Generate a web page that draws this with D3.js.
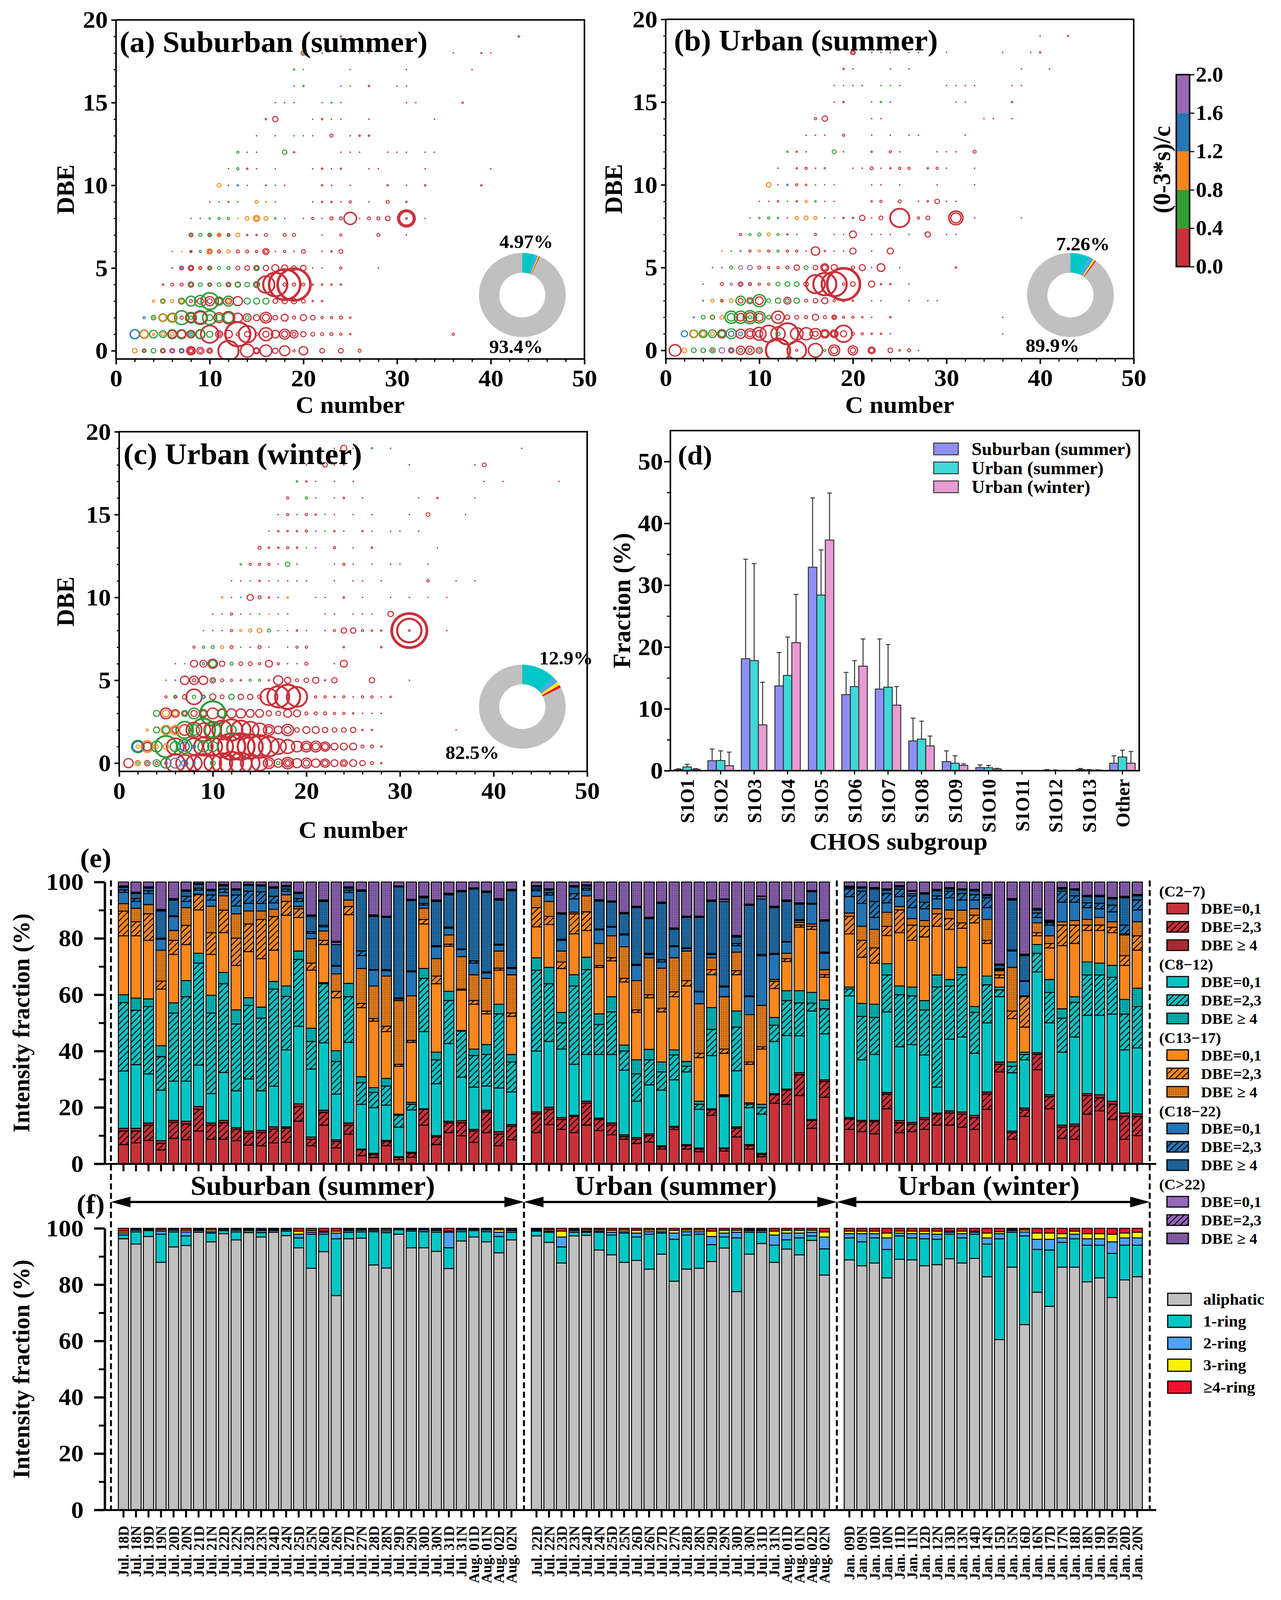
<!DOCTYPE html>
<html>
<head>
<meta charset="utf-8">
<script src="https://cdn.jsdelivr.net/npm/d3@7"></script>
<style>
  html, body { margin: 0; padding: 0; background: #fff; overflow: hidden; }
  #chart svg { display: block; width: 100vw; height: 100vh; }
  svg text { font-family: "Liberation Serif", "Times New Roman", serif; font-weight: bold; fill: #000; }
</style>
</head>
<body>
<div id="chart"></div>
<script>
// ---------- data ----------
// colour bar classes of (O-3S)/C
const ratioTicks = [0, 0.4, 0.8, 1.2, 1.6, 2.0];
const ratioColors = ['#c8313a', '#2e9e35', '#f8861c', '#2577b5', '#9868b5'];
const cTicks = [0, 10, 20, 30, 40, 50];
const dbeTicks = [0, 5, 10, 15, 20];

// bubbles: [C number, DBE, relative intensity, (O-3S)/C]
const bubblesSuburbanSummer = [
  [2,0,1.86,1.0],[3,0,1.3,0.6],[3,0,0.46,0.2],[4,0,1.86,0.6],[5,0,1.86,0.2],[5,0,0.8,0.6],[6,0,1.86,0.2],[6,0,0.8,1.8],[7,0,1.86,0.2],[7,0,1.0,1.4],
  [8,0,6.25,0.2],[8,0,3.3,0.2],[8,0,1.3,0.2],[9,0,4.2,0.2],[9,0,1.3,0.2],[10,0,2.5,0.2],[10,0,0.8,0.2],[12,0,34.9,0.2],[14,0,14.9,0.2],[15,0,1.86,0.2],
  [15,0,3.3,0.2],[16,0,11.6,0.2],[17,0,2.5,0.2],[18,0,8.7,0.2],[19,0,0.46,0.2],[20,0,6.25,0.2],[22,0,1.86,0.2],[24,0,1.86,0.2],[26,0,0.83,0.2],
  [2,1,7.4,1.4],[3,1,5.2,1.0],[3,1,6.25,0.6],[4,1,5.2,0.6],[4,1,0.46,1.0],[5,1,4.2,0.6],[5,1,1.3,1.0],[6,1,7.4,0.6],[6,1,5.2,0.2],[6,1,1.3,1.0],
  [7,1,7.4,0.6],[7,1,5.2,0.2],[8,1,5.2,0.2],[8,1,2.5,0.6],[8,1,0.5,1.4],[9,1,6.25,0.6],[9,1,7.4,0.2],[10,1,27,0.2],[10,1,3.3,0.6],[11,1,4.2,0.2],
  [11,1,1.3,0.2],[12,1,5.2,0.2],[13,1,52.9,0.2],[13,1,1,0.2],[14,1,25,0.2],[14,1,2.5,0.2],[15,1,0.8,0.2],[16,1,14.9,0.2],[16,1,3.3,0.2],[17,1,5.2,0.2],
  [18,1,8.7,0.2],[18,1,3.3,0.2],[19,1,5.2,0.2],[19,1,1.3,0.2],[20,1,2.5,0.2],[21,1,1.3,0.2],[22,1,0.83,0.2],[23,1,0.83,0.2],[24,1,0.46,0.2],[25,1,0.21,0.2],[36,1,0.46,0.2],
  [3,2,0.46,1.4],[4,2,1.86,0.6],[4,2,0.3,1.0],[5,2,4.2,1.0],[5,2,5.2,0.6],[6,2,5.2,1.0],[6,2,7.4,0.6],[7,2,16.7,0.6],[7,2,1,0.2],[8,2,7.4,0.2],
  [8,2,10.1,0.6],[8,2,1,0.6],[9,2,13.2,0.2],[9,2,16.7,0.6],[10,2,16.7,0.6],[10,2,3.3,0.6],[11,2,8.7,0.2],[11,2,4.2,0.6],[12,2,13.2,0.2],[12,2,8.7,0.6],
  [13,2,7.4,0.2],[14,2,5.2,0.2],[14,2,1.3,0.6],[15,2,3.3,0.2],[16,2,10.1,0.2],[16,2,4.2,0.2],[17,2,1.86,0.2],[18,2,4.2,0.2],[19,2,0.83,0.2],[20,2,3.3,0.2],
  [21,2,1.86,0.2],[22,2,0.46,0.2],[23,2,0.46,0.2],[24,2,0.83,0.2],[25,2,0.21,0.2],
  [4,3,0.46,1.0],[5,3,1.86,0.6],[5,3,0.8,1.0],[6,3,0.83,1.0],[7,3,3.3,0.6],[7,3,1.3,1.0],[8,3,8.7,0.6],[8,3,0.8,0.2],[9,3,11.6,0.6],[9,3,3.3,0.2],
  [10,3,25,0.6],[10,3,7.4,0.2],[10,3,2,0.2],[11,3,6.25,0.6],[11,3,3.3,0.2],[12,3,8.7,0.6],[12,3,3.3,0.2],[12,3,1,1.0],[13,3,7.4,0.2],[14,3,3.3,0.6],
  [15,3,3.3,0.6],[16,3,3.3,0.6],[17,3,1.86,0.2],[18,3,2.5,0.2],[19,3,2.5,0.2],[20,3,1.3,0.2],[21,3,0.21,0.2],[22,3,0.21,0.2],
  [5,4,0.21,0.2],[6,4,0.83,0.2],[7,4,0.83,0.2],[8,4,2.5,0.2],[8,4,1,0.6],[9,4,1.3,0.6],[10,4,1.3,0.2],[10,4,0.5,0.6],[11,4,1.3,0.6],[12,4,1.86,0.2],
  [12,4,0.8,0.6],[13,4,2.5,0.2],[13,4,1.86,0.6],[14,4,1.86,0.6],[15,4,3.3,0.6],[15,4,1.3,0.2],[16,4,25,0.2],[17,4,49.6,0.2],[18,4,82.6,0.2],[19,4,91,0.2],
  [18,4,1,0.2],[19,4,1,0.2],[20,4,0.83,0.2],[21,4,0.21,0.2],[22,4,0.21,0.2],[23,4,0.21,0.2],[24,4,0.21,0.2],
  [6,5,0.12,1.8],[7,5,1.3,0.2],[7,5,0.3,1.4],[8,5,2.5,0.2],[8,5,1,0.2],[9,5,0.83,0.2],[9,5,0.3,1.0],[10,5,1.3,0.2],[10,5,0.4,0.6],[11,5,0.83,0.6],
  [12,5,0.83,0.6],[13,5,1.3,0.2],[14,5,1.86,0.2],[15,5,2.5,0.6],[15,5,1,0.2],[16,5,2.5,0.2],[17,5,4.2,0.2],[18,5,3.3,0.2],[19,5,1.86,0.2],[20,5,2.5,0.2],
  [21,5,0.05,0.2],[22,5,0.05,0.2],[24,5,0.46,0.2],[28,5,0.05,0.2],
  [6,6,0.05,0.6],[7,6,0.05,1.0],[8,6,0.46,0.2],[8,6,0.1,1.4],[9,6,0.46,0.6],[10,6,2.5,1.0],[10,6,0.8,0.2],[11,6,0.83,0.2],[11,6,0.3,1.0],[12,6,0.83,1.0],
  [13,6,0.83,0.2],[14,6,0.83,0.2],[15,6,0.46,0.2],[16,6,3.3,0.2],[16,6,1,0.2],[17,6,0.05,0.2],[18,6,0.46,0.2],[19,6,0.05,0.2],[20,6,1.3,0.2],[22,6,0.05,0.2],
  [23,6,0.21,0.2],[24,6,1.3,0.2],
  [8,7,1.3,0.2],[8,7,0.3,0.6],[9,7,0.83,0.6],[10,7,1.3,0.6],[10,7,0.3,0.2],[11,7,1.3,1.0],[11,7,0.3,0.2],[12,7,0.83,0.6],[12,7,0.3,0.2],[13,7,1.3,1.0],
  [14,7,0.21,0.2],[15,7,0.21,0.2],[16,7,0.83,0.2],[18,7,0.83,0.2],[19,7,0.83,0.2],[22,7,0.05,0.2],[24,7,0.46,0.2],[28,7,0.83,0.2],[31,7,0.05,0.2],
  [8,8,0.05,0.6],[9,8,0.05,0.2],[10,8,0.21,0.6],[11,8,0.46,0.6],[12,8,0.46,0.6],[13,8,0.05,1.0],[14,8,1.3,1.0],[15,8,3.3,1.0],[15,8,1.3,1.0],[16,8,1.3,1.0],
  [17,8,0.21,0.6],[18,8,0.05,0.2],[20,8,0.05,0.2],[21,8,0.46,0.2],[22,8,0.05,0.2],[23,8,0.83,0.2],[24,8,0.83,0.2],[25,8,13.2,0.2],[26,8,0.05,0.2],[27,8,0.83,0.2],
  [28,8,0.83,0.2],[29,8,1.86,0.2],[31,8,25,0.2],[31,8,16.7,0.2],[31,8,0.3,0.2],[33,8,0.05,0.2],
  [10,9,0.05,0.2],[11,9,0.05,0.6],[12,9,0.12,0.2],[13,9,0.05,0.6],[15,9,0.83,1.0],[16,9,0.12,1.0],[17,9,0.05,0.6],[21,9,0.05,0.2],[22,9,0.21,0.2],[23,9,0.21,0.2],
  [24,9,0.05,0.2],[25,9,0.46,0.2],[27,9,0.05,0.2],[29,9,0.83,0.2],[31,9,0.21,0.2],
  [11,10,1.3,1.0],[12,10,0.05,0.2],[13,10,0.21,1.4],[14,10,0.05,0.6],[16,10,0.12,0.2],[17,10,0.05,0.6],[18,10,0.05,0.2],[22,10,0.21,0.2],[23,10,0.05,0.2],
  [25,10,0.05,0.2],[29,10,0.21,0.2],[31,10,0.05,0.2],[33,10,0.21,0.2],[39,10,0.21,0.2],
  [12,11,0.05,0.6],[13,11,0.46,0.6],[14,11,0.21,0.2],[15,11,0.05,0.2],[17,11,0.05,0.6],[21,11,0.05,0.2],[22,11,0.21,0.2],[23,11,0.05,0.2],[24,11,0.21,0.2],
  [27,11,0.05,0.2],[28,11,0.05,0.2],[33,11,0.05,0.2],[40,11,0.05,0.2],
  [13,12,0.46,0.6],[14,12,0.05,0.2],[15,12,0.05,0.2],[18,12,1.86,0.6],[19,12,0.21,0.2],[24,12,0.05,0.2],[25,12,0.05,0.2],[26,12,0.05,0.2],[29,12,0.05,0.2],
  [30,12,0.05,0.2],[31,12,0.05,0.2],[33,12,0.05,0.2],[34,12,0.05,0.2],
  [15,13,0.05,0.2],[17,13,0.05,0.2],[19,13,0.05,0.6],[20,13,0.05,0.6],[21,13,0.05,0.2],[23,13,0.83,0.2],[25,13,0.05,0.2],[26,13,0.21,0.2],[27,13,0.21,0.2],
  [16,14,0.21,0.2],[17,14,2.5,0.2],[21,14,0.05,0.6],[22,14,0.21,0.2],[23,14,0.05,0.6],[24,14,0.05,0.2],[27,14,0.05,0.2],[34,14,0.05,0.2],
  [17,15,0.05,0.2],[18,15,0.05,0.2],[19,15,0.05,0.2],[22,15,0.05,0.2],[23,15,0.12,0.6],[24,15,0.05,0.2],[31,15,0.05,0.2],[32,15,0.05,0.2],[37,15,0.21,0.2],
  [19,16,0.05,0.2],[20,16,0.21,0.6],[24,16,0.05,0.2],[25,16,0.05,0.6],[27,16,0.21,0.2],[30,16,0.05,0.2],[31,16,0.05,0.2],
  [19,17,0.21,0.6],[20,17,0.05,0.6],[25,17,0.05,0.6],[31,17,0.05,0.2],[38,17,0.05,0.2],
  [20,18,1.86,0.2],[20,18,0.3,0.6],[22,18,0.05,0.2],[26,18,0.05,0.6],[27,18,0.05,0.2],[36,18,0.05,0.2],[39,18,0.12,0.2],[40,18,0.05,0.2],
  [24,19,0.21,0.2],[43,19,0.21,0.2],[23,20,0.05,0.2],[29,20,0.05,0.2],[35,20,0.05,0.2]
];

const bubblesUrbanSummer = [
  [1,0,11.6,0.2],[2,0,1.86,1.0],[3,0,1.86,0.6],[4,0,1.86,0.6],[5,0,2.5,0.6],[5,0,0.5,0.2],[6,0,2.5,1.8],[7,0,2.5,0.2],[7,0,0.8,1.4],[8,0,6.25,0.2],
  [8,0,1.3,0.2],[9,0,6.25,0.2],[9,0,1.3,0.2],[10,0,3.3,0.2],[10,0,0.8,0.6],[12,0,49.6,0.2],[14,0,29.8,0.2],[14,0,0.5,0.2],[16,0,16.7,0.2],[17,0,0.46,0.6],
  [18,0,10.1,0.2],[18,0,4.2,0.2],[20,0,7.4,0.2],[20,0,2.5,0.2],[22,0,4.2,0.2],[22,0,1.86,0.2],[24,0,1.86,0.2],[25,0,0.21,0.2],[26,0,0.83,0.2],[27,0,0.05,0.2],
  [2,1,3.3,1.4],[3,1,4.2,1.0],[3,1,5.2,0.6],[4,1,5.2,0.6],[4,1,2.5,1.0],[5,1,5.2,0.6],[5,1,1.3,1.0],[6,1,6.25,0.2],[6,1,3.3,0.6],[7,1,8.7,0.6],
  [7,1,2.5,1.4],[8,1,7.4,0.2],[8,1,1.3,1.4],[9,1,8.7,0.2],[9,1,3.3,0.2],[10,1,14.9,0.2],[10,1,4.2,0.2],[11,1,25,0.2],[12,1,16.7,0.2],[12,1,1.3,0.6],
  [13,1,40.5,0.2],[14,1,13.2,0.2],[15,1,13.2,0.2],[16,1,10.1,0.2],[16,1,2.5,0.2],[17,1,6.25,0.2],[17,1,3.3,0.2],[18,1,5.2,0.2],[18,1,2.5,0.2],[19,1,25,0.2],
  [19,1,3.3,0.2],[20,1,0.83,0.2],[21,1,0.46,0.2],[22,1,0.21,0.2],[23,1,0.21,0.2],[24,1,0.05,0.2],[36,1,0.05,0.2],
  [3,2,0.12,1.4],[4,2,1.3,0.6],[5,2,1.86,1.0],[5,2,1.3,0.6],[6,2,1.3,1.0],[7,2,13.2,0.6],[7,2,5.2,0.6],[8,2,13.2,0.6],[8,2,5.2,0.2],[9,2,14.9,0.6],
  [9,2,7.4,0.2],[9,2,1,0.6],[10,2,11.6,0.6],[10,2,5.2,0.2],[11,2,1.3,0.2],[11,2,1.3,0.6],[12,2,13.2,0.2],[12,2,2.5,0.2],[13,2,1.86,0.2],[14,2,1.3,0.2],
  [15,2,0.83,0.2],[16,2,3.3,0.2],[17,2,0.83,0.2],[18,2,1.86,0.2],[18,2,0.5,0.2],[19,2,0.46,0.2],[20,2,0.46,0.2],[21,2,0.21,0.2],[22,2,0.05,0.2],[24,2,0.21,0.2],[36,2,0.05,0.2],
  [4,3,0.12,0.6],[5,3,0.83,1.0],[6,3,0.83,1.0],[6,3,0.3,0.2],[7,3,1.3,1.0],[8,3,7.4,0.6],[8,3,2,0.2],[9,3,3.3,0.2],[9,3,1.3,0.6],[10,3,13.2,0.6],
  [10,3,5.2,0.2],[11,3,1.3,0.6],[12,3,2.5,0.6],[13,3,4.2,0.2],[13,3,1.3,0.6],[14,3,2.5,0.6],[15,3,0.83,0.2],[16,3,1.86,0.2],[17,3,3.3,0.2],[18,3,0.46,0.2],
  [19,3,0.46,0.2],[20,3,0.21,0.2],[22,3,0.05,0.2],[23,3,0.05,0.2],[26,3,0.05,0.2],[28,3,0.05,0.2],[29,3,0.05,0.2],
  [4,4,0.05,1.4],[6,4,0.83,0.2],[7,4,0.46,1.8],[8,4,1.86,0.2],[8,4,0.4,1.8],[9,4,0.83,0.2],[9,4,0.3,1.8],[10,4,0.46,0.2],[11,4,0.46,0.2],[12,4,1.3,0.6],
  [13,4,1.86,0.6],[14,4,1.86,0.6],[15,4,1.86,0.2],[16,4,29.8,0.2],[17,4,45,0.2],[18,4,52.9,0.2],[19,4,91,0.2],[19,4,0.5,0.2],[20,4,1.86,0.2],[22,4,3.3,0.2],
  [23,4,0.21,0.2],[24,4,0.21,0.2],[26,4,0.05,0.2],
  [5,5,0.05,0.2],[6,5,0.05,0.2],[7,5,0.83,0.6],[8,5,1.3,1.8],[9,5,1.86,1.8],[10,5,0.83,0.2],[11,5,0.46,0.2],[12,5,0.46,0.2],[13,5,0.83,0.2],[14,5,2.5,0.2],
  [15,5,1.3,0.6],[16,5,1.86,0.2],[17,5,5.2,0.2],[17,5,2.5,0.2],[18,5,3.3,0.2],[20,5,0.83,0.2],[21,5,3.3,0.2],[22,5,0.05,0.2],[23,5,5.2,0.2],[25,5,0.05,0.2],[31,5,0.21,0.2],
  [6,6,0.05,1.0],[7,6,0.05,0.6],[8,6,0.21,1.8],[9,6,0.46,0.2],[10,6,0.46,1.0],[11,6,0.46,0.2],[12,6,0.46,0.6],[13,6,0.46,0.2],[14,6,0.46,0.2],[15,6,0.05,0.2],
  [16,6,6.25,0.2],[17,6,0.21,0.2],[18,6,0.05,0.2],[19,6,0.05,0.2],[20,6,3.3,0.2],[22,6,0.05,0.2],[24,6,3.3,0.2],
  [8,7,0.46,0.2],[9,7,0.46,0.6],[10,7,0.83,0.6],[11,7,0.83,1.0],[12,7,0.46,0.6],[13,7,0.21,0.2],[14,7,0.05,0.2],[16,7,0.46,0.2],[18,7,0.05,0.2],[19,7,0.05,0.2],
  [20,7,4.2,0.2],[22,7,0.05,0.2],[23,7,0.05,0.2],[24,7,0.05,0.2],[26,7,0.05,0.2],[28,7,2.5,0.2],[30,7,0.05,0.2],[31,7,0.05,0.2],
  [9,8,0.05,0.6],[10,8,0.21,0.6],[11,8,0.46,0.6],[12,8,0.21,0.6],[13,8,0.05,0.2],[14,8,0.83,1.0],[15,8,1.3,1.0],[16,8,0.83,1.0],[17,8,0.05,0.6],[18,8,0.05,0.2],
  [19,8,0.21,0.2],[20,8,0.21,0.2],[21,8,2.5,0.2],[22,8,0.05,0.2],[23,8,1.3,0.2],[24,8,0.05,0.2],[25,8,31,0.2],[26,8,0.05,0.2],[27,8,0.46,0.2],[28,8,1.3,0.2],
  [31,8,16.7,0.2],[31,8,8.7,0.2],[33,8,0.05,0.2],[38,8,0.05,0.2],
  [10,9,0.05,0.2],[11,9,0.05,0.2],[12,9,0.21,0.2],[13,9,0.05,0.6],[14,9,0.21,0.2],[15,9,0.46,1.0],[16,9,0.21,0.6],[17,9,0.05,0.2],[18,9,0.05,0.2],[22,9,0.21,0.2],
  [23,9,0.46,0.2],[25,9,0.83,0.2],[27,9,0.05,0.2],[28,9,0.21,0.2],[29,9,1.86,0.2],[30,9,0.05,0.2],[31,9,0.05,0.2],
  [11,10,1.86,1.0],[12,10,0.05,0.2],[13,10,0.21,1.4],[14,10,0.46,0.2],[15,10,0.21,0.2],[16,10,0.05,0.6],[17,10,0.05,0.6],[18,10,0.05,0.6],[22,10,0.05,0.2],
  [23,10,0.05,0.2],[25,10,0.05,0.2],[29,10,0.05,0.2],[33,10,0.05,0.2],
  [12,11,0.05,0.2],[14,11,0.21,0.2],[15,11,0.46,0.2],[16,11,0.05,0.2],[17,11,0.21,0.6],[20,11,0.05,0.2],[21,11,0.05,0.2],[22,11,0.83,0.2],[23,11,0.05,0.2],
  [24,11,0.21,0.2],[25,11,0.46,0.2],[26,11,0.46,0.2],[28,11,0.21,0.2],[29,11,0.46,0.2],[30,11,0.05,0.2],[33,11,0.05,0.2],
  [13,12,0.21,0.6],[14,12,0.21,0.2],[15,12,0.05,0.2],[18,12,1.3,0.6],[19,12,0.05,0.2],[22,12,0.21,0.2],[24,12,0.46,0.2],[25,12,0.05,0.2],[29,12,0.05,0.2],
  [30,12,0.05,0.2],[31,12,0.05,0.2],[33,12,0.83,0.2],
  [15,13,0.05,0.2],[16,13,0.05,0.2],[17,13,0.05,0.2],[19,13,0.46,0.2],[22,13,0.05,0.2],[24,13,0.05,0.2],[26,13,0.05,0.2],[27,13,0.05,0.2],[32,13,0.05,0.2],
  [16,14,0.46,0.2],[17,14,2.5,0.2],[22,14,0.05,0.2],[23,14,0.05,0.2],[34,14,0.05,0.2],[35,14,0.05,0.2],[37,14,0.05,0.2],
  [18,15,0.05,0.2],[19,15,0.21,0.2],[22,15,0.05,0.2],[23,15,0.21,0.6],[24,15,0.05,0.2],[31,15,0.05,0.2],[32,15,0.05,0.2],[37,15,0.21,0.2],
  [18,16,0.05,0.2],[19,16,0.05,0.2],[20,16,0.05,0.2],[21,16,0.05,0.2],[23,16,0.05,0.6],[24,16,0.05,0.6],[25,16,0.05,0.2],[30,16,0.05,0.2],[31,16,0.05,0.2],
  [32,16,0.05,0.2],[33,16,0.05,0.2],[37,16,0.05,0.2],[38,16,0.05,0.2],
  [19,17,0.21,0.2],[20,17,0.05,0.2],[24,17,0.05,0.2],[26,17,0.05,0.2],[38,17,0.05,0.2],[41,17,0.05,0.2],
  [20,18,1.86,0.2],[20,18,0.5,0.2],[22,18,0.05,0.2],[23,18,0.05,0.2],[24,18,0.05,0.2],[26,18,0.05,0.6],[27,18,0.05,0.2],[30,18,0.05,0.2],[36,18,0.05,0.2],
  [39,18,0.05,0.2],[40,18,0.21,0.2],[40,19,0.05,0.2],[43,19,0.12,0.2],[35,20,0.05,0.2]
];

const bubblesUrbanWinter = [
  [1,0,7.4,0.2],[2,0,2.5,1.0],[2,0,0.5,0.6],[3,0,2.5,0.2],[3,0,0.5,0.6],[4,0,4.2,0.6],[4,0,0.8,0.2],[5,0,8.7,0.6],[5,0,1,1.8],[6,0,8.7,1.8],
  [6,0,30,0.2],[7,0,3.3,1.4],[7,0,25,0.2],[8,0,20.7,0.2],[8,0,0.5,1.4],[9,0,29.8,0.2],[10,0,25,0.2],[10,0,2,0.6],[11,0,34.9,0.2],[12,0,46.5,0.2],
  [13,0,40.5,0.2],[14,0,29.8,0.2],[15,0,20.7,0.2],[16,0,10.1,0.2],[16,0,4.2,0.2],[17,0,6.25,0.2],[17,0,1,0.6],[18,0,11.6,0.2],[18,0,5.2,0.2],[18,0,1.86,0.2],
  [19,0,7.4,0.2],[20,0,8.7,0.2],[20,0,3.3,0.2],[21,0,6.25,0.2],[22,0,6.25,0.2],[22,0,2.5,0.2],[23,0,4.2,0.2],[24,0,4.2,0.2],[24,0,1.3,0.2],[25,0,4.2,0.2],
  [26,0,2.5,0.2],[27,0,0.83,0.2],[28,0,0.21,0.2],
  [2,1,9.5,1.4],[2,1,13.2,0.6],[2,1,1,1.0],[3,1,11.6,1.0],[3,1,6.25,0.2],[4,1,10.1,0.6],[4,1,1,1.0],[5,1,2.5,1.0],[5,1,40.5,0.6],[6,1,8.7,0.6],
  [6,1,25,0.2],[7,1,7.4,1.4],[7,1,16.7,0.6],[8,1,25,0.2],[8,1,1,1.4],[9,1,29.8,0.2],[9,1,10.1,0.6],[10,1,29.8,0.2],[10,1,8.7,0.6],[11,1,40.5,0.2],
  [12,1,63,0.2],[13,1,63,0.2],[14,1,52.9,0.2],[15,1,46.5,0.2],[16,1,34.9,0.2],[17,1,20.7,0.2],[18,1,16.7,0.2],[19,1,10.1,0.2],[20,1,10.1,0.2],[20,1,4.2,0.2],
  [21,1,10.1,0.2],[21,1,4.2,0.2],[22,1,7.4,0.2],[22,1,3.3,0.2],[23,1,4.2,0.2],[24,1,4.2,0.2],[25,1,4.2,0.2],[26,1,0.83,0.2],[27,1,0.83,0.2],[28,1,0.21,0.2],
  [3,2,0.46,1.0],[4,2,3.3,0.6],[5,2,7.4,1.0],[5,2,4.2,0.6],[6,2,7.4,1.0],[6,2,3.3,0.2],[7,2,25,0.6],[7,2,10.1,0.2],[8,2,10.1,0.6],[8,2,20,0.2],
  [9,2,46.5,0.6],[9,2,16.7,0.2],[10,2,20.7,0.6],[10,2,25,0.2],[11,2,32.3,0.2],[12,2,40.5,0.2],[12,2,7.4,0.6],[13,2,32.3,0.2],[14,2,25,0.2],[15,2,16.7,0.2],
  [16,2,10.1,0.2],[16,2,4.2,0.2],[17,2,5.2,0.2],[18,2,11.6,0.2],[18,2,4.2,0.2],[19,2,1.86,0.2],[20,2,4.2,0.2],[21,2,4.2,0.2],[22,2,2.5,0.2],[23,2,1.86,0.2],
  [24,2,1.86,0.2],[25,2,2.5,0.2],[26,2,0.21,0.2],[27,2,0.21,0.2],[36,2,0.05,0.2],
  [4,3,3.3,0.6],[5,3,10.1,0.2],[5,3,4.2,1.0],[6,3,5.2,0.2],[6,3,2.5,1.0],[7,3,3.3,0.6],[7,3,1.3,0.2],[8,3,10.1,0.6],[8,3,3.3,0.2],[9,3,5.2,0.2],
  [9,3,2.5,0.6],[10,3,52.9,0.6],[10,3,10.1,0.2],[11,3,7.4,0.2],[11,3,5.2,0.6],[12,3,7.4,0.2],[13,3,7.4,0.2],[14,3,5.2,0.2],[15,3,5.2,0.2],[16,3,2.5,0.2],
  [17,3,1.86,0.2],[18,3,5.2,0.2],[19,3,4.2,0.2],[20,3,0.83,0.2],[21,3,0.83,0.2],[22,3,0.83,0.2],[23,3,0.46,0.2],[24,3,0.46,0.2],[25,3,0.21,0.2],[26,3,0.05,0.2],
  [27,3,0.05,0.2],[28,3,0.05,0.2],
  [5,4,0.46,0.2],[6,4,0.83,0.2],[6,4,0.3,0.6],[7,4,1.86,0.2],[8,4,20.7,0.2],[8,4,1,0.6],[9,4,1.3,0.6],[9,4,0.4,1.8],[10,4,3.3,0.2],[11,4,1.3,0.2],
  [12,4,2.5,0.6],[13,4,2.5,0.2],[14,4,2.5,0.2],[15,4,1.3,0.2],[16,4,25,0.2],[17,4,40.5,0.2],[18,4,52.9,0.2],[19,4,34.9,0.2],[18,4,0.5,0.2],[21,4,0.46,0.2],
  [22,4,0.46,0.2],[23,4,0.21,0.2],[24,4,0.46,0.2],[25,4,0.05,0.2],[26,4,0.46,0.2],[27,4,0.46,0.2],[28,4,0.05,0.2],[29,4,0.21,0.2],
  [5,5,0.05,0.6],[6,5,0.12,1.8],[7,5,6.25,0.2],[8,5,6.25,0.2],[8,5,1,0.2],[9,5,6.25,0.2],[10,5,2.5,0.2],[10,5,0.5,0.6],[11,5,0.83,0.2],[12,5,0.46,0.2],
  [13,5,0.21,0.2],[14,5,0.46,0.6],[15,5,0.46,0.6],[16,5,0.21,0.2],[17,5,7.4,0.2],[18,5,3.3,0.2],[19,5,0.83,0.2],[20,5,1.86,0.2],[21,5,3.3,0.2],[22,5,0.21,0.2],
  [23,5,2.5,0.2],[27,5,2.5,0.2],[31,5,0.05,0.2],
  [6,6,0.05,0.6],[7,6,0.05,0.6],[8,6,4.2,0.2],[9,6,4.2,0.2],[9,6,0.5,1.4],[10,6,7.4,0.2],[10,6,4.2,0.6],[11,6,2.5,0.2],[12,6,0.83,0.6],[13,6,1.3,0.2],
  [14,6,1.3,0.2],[15,6,0.46,0.2],[16,6,4.2,0.2],[17,6,0.46,0.2],[18,6,0.05,0.2],[19,6,0.05,0.2],[20,6,0.83,0.2],[23,6,0.05,0.2],[24,6,4.2,0.2],
  [8,7,0.46,0.2],[9,7,0.46,0.6],[10,7,0.83,0.6],[11,7,0.83,1.0],[12,7,0.83,0.2],[13,7,0.05,0.6],[14,7,0.05,0.2],[15,7,0.83,0.2],[16,7,0.05,0.2],[18,7,0.05,0.2],
  [19,7,0.46,0.2],[20,7,0.46,0.2],[24,7,0.21,0.2],[28,7,0.21,0.2],
  [9,8,0.05,0.6],[10,8,0.05,0.2],[11,8,0.05,0.2],[12,8,0.46,0.2],[13,8,0.46,1.0],[14,8,0.83,1.0],[15,8,1.86,1.0],[16,8,0.83,0.6],[17,8,0.05,0.6],[18,8,0.05,0.2],
  [19,8,0.21,0.2],[20,8,0.05,0.2],[22,8,0.05,0.2],[23,8,0.46,0.2],[24,8,2.5,0.2],[25,8,2.5,0.2],[26,8,0.46,0.2],[27,8,0.21,0.2],[28,8,0.21,0.2],[31,8,105,0.2],
  [31,8,50,0.2],[31,8,0.3,0.2],[35,8,0.05,0.2],
  [10,9,0.05,0.2],[11,9,0.05,0.2],[12,9,0.46,0.2],[13,9,0.05,0.2],[14,9,0.05,0.2],[15,9,0.05,0.6],[16,9,0.05,1.0],[17,9,0.05,0.6],[18,9,0.05,0.2],[22,9,0.05,0.2],
  [23,9,0.05,0.2],[25,9,0.05,0.2],[26,9,0.05,0.2],[27,9,0.05,0.2],[29,9,2.5,0.2],
  [11,10,0.21,1.0],[12,10,0.05,0.2],[13,10,0.05,1.4],[14,10,3.3,0.2],[15,10,0.83,0.2],[16,10,0.21,0.2],[17,10,0.05,0.2],[18,10,0.21,1.0],[21,10,0.05,0.2],
  [22,10,0.05,0.2],[24,10,0.21,0.2],[26,10,0.05,0.2],[29,10,0.05,0.2],[31,10,0.05,0.2],[33,10,0.05,0.2],[35,10,0.05,0.2],
  [12,11,0.05,0.2],[13,11,0.05,0.2],[14,11,0.05,0.6],[15,11,0.21,0.2],[16,11,0.05,0.2],[17,11,0.05,0.6],[18,11,0.05,0.2],[19,11,0.05,0.2],[20,11,0.05,0.2],
  [23,11,0.05,0.2],[25,11,0.05,0.2],[26,11,0.05,0.2],[28,11,0.05,0.2],[33,11,0.46,0.2],[36,11,0.05,0.2],[38,11,0.05,0.2],
  [13,12,0.21,0.6],[14,12,0.46,0.2],[15,12,0.46,0.2],[16,12,0.46,0.2],[17,12,0.05,0.2],[18,12,1.86,0.6],[19,12,0.05,0.2],[23,12,0.05,0.2],[24,12,0.46,0.2],
  [25,12,0.05,0.2],[27,12,0.05,0.2],[29,12,0.05,0.2],[30,12,0.05,0.2],[33,12,0.05,0.2],
  [15,13,0.83,0.2],[16,13,0.21,0.2],[17,13,0.21,0.2],[18,13,0.46,0.2],[19,13,0.21,0.2],[20,13,0.05,0.6],[21,13,0.05,0.2],[23,13,0.46,0.2],[25,13,0.05,0.2],
  [27,13,0.21,0.2],[34,13,0.05,0.2],
  [16,14,0.05,0.2],[17,14,0.21,0.2],[18,14,0.21,0.2],[19,14,0.21,0.2],[20,14,0.46,0.2],[21,14,0.05,0.2],[22,14,0.05,0.6],[23,14,0.21,0.2],[24,14,0.05,0.2],
  [26,14,0.21,0.2],[27,14,0.05,0.2],[29,14,0.05,0.2],[30,14,0.05,0.2],[32,14,0.05,0.2],
  [17,15,0.05,0.2],[18,15,0.46,0.2],[19,15,0.05,0.2],[20,15,0.46,0.2],[21,15,0.21,0.2],[22,15,0.05,0.6],[23,15,0.05,0.2],[25,15,0.05,0.2],[27,15,0.05,0.2],
  [31,15,0.05,0.2],[33,15,1.3,0.2],[37,15,0.05,0.2],
  [18,16,0.46,0.2],[20,16,0.46,0.6],[21,16,0.05,0.2],[23,16,0.05,0.6],[24,16,0.21,0.2],[26,16,0.05,0.2],[32,16,0.05,0.2],[34,16,0.21,0.2],[38,16,0.05,0.2],
  [19,17,0.21,0.6],[20,17,0.21,0.2],[21,17,0.05,0.2],[23,17,0.05,0.2],[25,17,0.05,0.2],[39,17,0.05,0.2],[41,17,0.05,0.2],[47,17,0.05,0.2],
  [20,18,0.05,0.2],[22,18,1.86,0.2],[23,18,0.05,0.2],[24,18,0.05,0.2],[31,18,0.05,0.2],[38,18,0.05,0.2],[39,18,1.3,0.2],
  [23,19,0.05,0.2],[24,19,3.3,0.2],[25,19,0.05,0.2],[27,19,0.21,0.6],[29,19,0.05,0.2],[43,19,0.05,0.2]
];

// ring classes (pies and panel f)
const ringClasses = ['aliphatic', '1-ring', '2-ring', '3-ring', '\u22654-ring'];
const ringColors = ['#c0c0c0', '#00c6c6', '#4da3f5', '#fff200', '#f0142d'];
const pieSuburbanSummer = [93.4, 4.97, 0.9, 0.4, 0.33];
const pieUrbanSummer = [89.9, 7.26, 1.6, 0.7, 0.54];
const pieUrbanWinter = [82.5, 12.9, 2.2, 1.3, 1.1];

// panel d: CHOS subgroup fractions (%) and upper error
const subgroups = ['S1O1','S1O2','S1O3','S1O4','S1O5','S1O6','S1O7','S1O8','S1O9','S1O10','S1O11','S1O12','S1O13','Other'];
const sites = ['Suburban (summer)', 'Urban (summer)', 'Urban (winter)'];
const siteColors = ['#8f8ff7', '#3fd8d8', '#e99bd3'];
const fracSuburbanSummer = [0.19, 1.6, 18.1, 13.7, 32.9, 12.3, 13.2, 4.8, 1.46, 0.47, 0.03, 0.07, 0.19, 1.2];
const errSuburbanSummer = [0.11, 1.9, 16.1, 5.4, 11.2, 3.6, 8.1, 3.7, 1.74, 0.47, 0.02, 0.11, 0.16, 1.2];
const fracUrbanSummer = [0.6, 1.64, 17.8, 15.4, 28.4, 13.6, 13.5, 5.1, 1.2, 0.47, 0.02, 0.05, 0.1, 2.2];
const errUrbanSummer = [0.43, 1.56, 15.7, 6.2, 7.3, 4.2, 6.9, 2.9, 1.2, 0.38, 0.02, 0.07, 0.08, 1.1];
const fracUrbanWinter = [0.23, 0.8, 7.4, 20.7, 37.3, 16.9, 10.6, 4.0, 0.85, 0.28, 0.01, 0.03, 0.08, 1.2];
const errUrbanWinter = [0.1, 2.2, 6.9, 7.8, 7.6, 4.4, 3.0, 1.6, 0.25, 0.1, 0.01, 0.03, 0.06, 1.9];

// panels e/f: samples
const suburbanSamples = ['Jul. 18D','Jul. 18N','Jul. 19D','Jul. 19N','Jul. 20D','Jul. 20N','Jul. 21D','Jul. 21N','Jul. 22D','Jul. 22N',
  'Jul. 23D','Jul. 23N','Jul. 24D','Jul. 24N','Jul. 25D','Jul. 25N','Jul. 26D','Jul. 26N','Jul. 27D','Jul. 27N','Jul. 28D','Jul. 28N',
  'Jul. 29D','Jul. 29N','Jul. 30D','Jul. 30N','Jul. 31D','Jul. 31N','Aug. 01D','Aug. 01N','Aug. 02D','Aug. 02N'];
const urbanSummerSamples = ['Jul. 22D','Jul. 22N','Jul. 23D','Jul. 23N','Jul. 24D','Jul. 24N','Jul. 25D','Jul. 25N','Jul. 26D','Jul. 26N',
  'Jul. 27D','Jul. 27N','Jul. 28D','Jul. 28N','Jul. 29D','Jul. 29N','Jul. 30D','Jul. 30N','Jul. 31D','Jul. 31N','Aug. 01D','Aug. 01N','Aug. 02D','Aug. 02N'];
const urbanWinterSamples = ['Jan. 09D','Jan. 09N','Jan. 10D','Jan. 10N','Jan. 11D','Jan. 11N','Jan. 12D','Jan. 12N','Jan. 13D','Jan. 13N',
  'Jan. 14D','Jan. 14N','Jan. 15D','Jan. 15N','Jan. 16D','Jan. 16N','Jan. 17D','Jan. 17N','Jan. 18D','Jan. 18N','Jan. 19D','Jan. 19N','Jan. 20D','Jan. 20N'];
const siteLabels = ['Suburban (summer)', 'Urban (summer)', 'Urban (winter)'];

// panel e: carbon groups x DBE classes
const carbonGroups = ['(C2\u22127)', '(C8\u221212)', '(C13\u221217)', '(C18\u221222)', '(C>22)'];
const carbonColors = ['#c8313a', '#00c4c4', '#f8871e', '#2374b4', '#9467bd'];
const dbeClasses = ['DBE=0,1', 'DBE=2,3', 'DBE \u2265 4'];

// top edge (%) of each stacked band, read bottom -> top; last band runs to 100
const dbeTopsSuburban = [
  [6.8,11.6,12.6,32.9,57.2,60.0,80.9,89.7,92.3,96.3,97.2,98.1,98.4,98.6],[7.4,11.6,12.6,35.2,54.5,58.8,80.9,85.9,90.7,93.1,94.1,95.9,96.2,96.4],
  [8.3,13.7,14.5,31.9,55.8,58.5,79.3,88.7,92.0,95.9,96.9,97.8,98.1,98.3],[4.9,7.2,8.2,26.1,38.0,41.9,62.0,64.8,75.8,79.7,80.1,89.7,90.0,90.3],
  [9.0,14.7,15.4,29.3,53.5,57.1,74.3,79.3,82.8,87.7,88.0,93.6,93.9,94.1],[8.5,14.1,15.1,29.3,59.3,65.0,77.8,84.6,90.9,93.1,94.9,96.7,97.0,97.2],
  [11.6,19.3,20.3,35.0,71.2,74.7,90.1,95.5,95.7,97.1,97.8,99.1,99.3,99.5],[8.7,13.7,14.5,24.9,53.5,59.8,74.3,82.0,91.4,93.6,95.4,96.9,97.2,97.4],
  [8.7,14.5,15.4,32.4,63.9,67.9,82.0,90.0,95.1,96.3,97.5,98.6,98.9,99.1],[8.2,12.2,12.8,25.9,49.6,54.6,70.4,80.1,88.7,91.5,95.4,97.1,97.4,97.6],
  [6.6,10.8,11.6,30.1,56.2,58.9,75.3,85.1,89.7,92.4,96.7,98.8,99.0,99.2],[6.4,11.0,11.8,25.9,51.7,55.6,72.8,86.7,89.7,92.4,96.5,98.6,98.8,99.0],
  [7.4,12.3,13.1,27.5,62.0,64.7,75.8,87.7,90.3,92.6,94.9,97.8,98.1,98.3],[7.6,12.6,13.1,40.4,59.4,63.1,88.2,93.1,95.5,96.7,97.5,98.3,98.6,98.8],
  [15.1,20.3,21.3,48.8,72.5,75.5,87.4,90.5,91.3,93.1,94.1,95.9,96.2,96.4],[6.4,8.7,9.5,33.6,43.4,48.1,68.7,71.2,79.9,81.8,82.4,87.8,88.1,88.3],
  [13.7,18.2,19.0,42.9,63.9,64.3,77.8,79.3,82.6,84.1,84.6,93.1,93.4,93.6],[5.6,7.9,8.5,24.7,36.3,40.1,58.9,61.2,67.4,70.1,70.4,77.8,78.6,79.0],
  [10.5,13.7,14.5,43.1,59.3,64.0,88.4,91.3,93.6,96.3,97.1,97.8,98.1,98.3],[2.9,4.9,5.2,21.1,28.8,30.9,55.4,56.9,69.3,73.9,75.5,96.7,97.0,97.2],
  [2.2,3.3,3.7,19.9,25.3,27.0,50.6,51.5,63.1,68.7,68.9,87.8,88.1,88.3],[6.4,7.9,8.3,20.8,27.6,30.3,46.9,48.8,66.6,68.5,68.9,87.4,87.7,87.9],
  [1.5,2.3,2.5,13.0,17.2,17.6,34.6,35.3,57.9,58.5,58.9,98.2,98.4,98.6],[2.3,3.7,4.1,19.1,21.1,21.8,43.1,43.8,59.6,68.1,68.5,93.4,93.7,93.9],
  [13.7,19.3,19.5,46.9,65.8,69.3,85.1,86.7,90.7,91.8,92.4,94.4,94.7,94.9],[6.8,9.5,10.0,28.4,36.9,39.6,63.9,66.6,72.8,77.0,77.4,93.1,93.4,93.6],
  [11.0,14.5,15.1,42.7,57.9,61.2,77.2,77.9,81.2,83.6,84.0,95.5,95.8,96.0],[9.9,14.5,15.3,30.7,47.1,47.3,61.6,62.0,73.5,76.0,76.2,96.5,96.8,97.0],
  [7.6,11.6,12.2,27.2,38.4,40.7,56.6,57.9,67.1,71.2,72.0,97.5,97.7,97.9],[11.0,18.4,19.0,27.6,38.8,42.3,53.2,54.2,65.8,67.7,68.1,96.3,96.6,96.8],
  [6.4,10.5,11.4,26.9,53.2,56.6,68.7,69.4,75.5,77.6,77.9,93.6,93.9,94.1],[8.5,13.3,13.9,25.5,36.1,38.8,52.3,53.5,67.1,69.3,69.7,96.9,97.2,97.4]
];
const dbeTopsUrbanSummer = [
  [11.0,17.7,18.4,40.0,68.7,73.1,84.1,90.9,94.9,96.9,97.5,98.2,98.5,98.7],[13.9,19.3,20.1,43.4,63.9,69.7,84.9,87.8,93.1,95.4,96.2,97.1,97.4,97.6],
  [12.2,15.7,16.4,40.7,50.0,53.7,69.3,71.6,75.5,79.3,79.7,88.6,88.9,89.1],[11.0,16.8,17.2,35.3,63.1,67.1,81.6,88.7,89.3,94.0,95.9,98.2,98.5,98.7],
  [13.7,21.5,22.2,38.8,68.9,73.3,82.8,89.4,95.1,97.1,97.8,98.6,98.8,99.0],[11.8,15.7,16.2,38.8,49.4,53.2,69.7,70.4,78.2,83.0,83.3,93.2,93.5,93.7],
  [10.3,13.7,14.5,38.8,53.9,59.3,72.0,73.1,80.9,84.0,84.3,92.8,93.1,93.3],[8.7,9.7,10.3,33.2,40.0,42.1,64.5,65.8,77.0,81.2,81.6,88.7,89.0,89.2],
  [7.2,8.7,9.3,22.2,31.9,36.9,53.7,54.6,65.0,70.4,70.8,90.9,91.2,91.4],[7.7,10.0,10.6,28.0,36.9,40.6,58.9,60.0,73.1,74.3,74.7,87.0,87.3,87.5],
  [5.2,6.0,6.4,26.1,32.6,36.1,53.9,55.2,69.4,71.6,72.4,92.4,92.7,92.9],[12.2,13.0,13.3,29.8,38.6,40.4,59.3,61.0,73.1,77.0,77.4,83.2,83.5,83.7],
  [5.2,6.4,6.8,32.6,34.6,36.3,63.1,65.0,75.5,76.4,76.6,87.4,87.7,87.9],[4.3,5.2,5.6,19.3,21.1,22.2,37.7,39.2,56.8,61.0,61.2,87.4,87.7,87.9],
  [17.2,19.1,19.5,38.4,47.7,55.4,67.1,68.9,73.1,74.3,74.7,93.1,93.4,93.6],[4.5,5.4,5.6,23.8,24.2,24.5,39.2,40.7,59.3,62.7,63.1,93.1,93.8,94.0],
  [9.5,12.6,13.1,33.0,48.5,54.2,67.1,68.5,75.1,77.4,78.2,80.5,80.8,81.0],[5.2,6.4,6.8,19.9,21.1,21.6,35.3,36.1,52.9,59.3,59.6,91.7,92.0,92.2],
  [2.5,3.3,3.7,17.6,19.9,21.1,40.7,41.5,56.2,73.8,74.3,94.0,94.8,95.0],[21.5,24.5,24.9,43.4,49.2,51.9,62.2,64.7,65.4,74.3,74.7,90.9,91.2,91.4],
  [21.1,26.1,26.5,45.5,57.9,61.4,71.8,72.8,74.7,78.7,78.9,93.1,93.4,93.6],[24.2,31.6,32.3,45.4,57.1,61.4,84.0,84.7,85.6,86.3,86.7,92.1,92.4,92.6],
  [12.6,15.3,15.7,54.2,57.0,60.8,83.2,84.3,85.1,92.1,92.4,96.5,96.8,97.0],[23.6,29.2,29.8,46.1,55.0,58.1,66.2,67.1,68.9,74.7,75.1,86.1,86.4,86.6]
];
const dbeTopsUrbanWinter = [
  [12.2,15.9,16.4,59.6,62.0,62.7,81.6,87.8,89.0,94.8,97.5,98.0,98.3,98.5],[11.4,14.9,15.4,36.9,52.3,56.9,73.3,79.3,84.3,92.4,96.7,97.8,98.1,98.3],
  [10.6,14.9,15.4,38.8,51.9,56.6,71.2,76.6,83.2,87.4,93.1,97.5,97.8,98.0],[19.5,24.7,25.3,53.9,67.0,71.0,81.0,84.3,89.2,92.6,95.9,97.1,97.4,97.6],
  [11.0,14.5,15.3,41.5,60.0,63.1,82.0,90.1,91.3,94.8,97.5,98.2,98.5,98.7],[11.4,14.1,14.7,42.3,59.6,62.7,79.3,84.7,87.0,90.9,95.1,95.9,96.7,97.0],
  [12.2,15.7,16.4,38.6,54.6,57.9,80.5,84.3,86.3,90.5,92.8,95.7,96.0,96.2],[13.7,17.6,18.0,27.2,62.7,67.0,84.3,88.7,90.5,94.0,95.1,96.9,97.2,97.4],
  [13.7,18.0,18.8,44.2,63.1,65.4,83.2,87.0,90.1,94.4,96.7,97.5,97.8,98.0],[13.0,17.6,18.4,45.0,67.1,69.7,83.6,85.5,90.0,93.6,95.9,97.1,97.4,97.6],
  [12.2,16.4,17.2,39.2,53.7,55.8,85.5,88.2,90.5,93.6,95.5,96.9,97.2,97.4],[19.3,24.7,25.5,50.0,63.5,66.6,78.2,79.3,86.7,90.9,94.4,95.1,95.4,95.6],
  [32.6,35.3,36.1,59.3,61.7,62.7,66.0,67.0,68.5,68.9,69.3,70.4,70.7,70.9],[8.7,11.0,11.6,32.3,34.6,36.1,51.5,54.2,69.7,75.5,75.9,93.6,93.9,94.1],
  [16.8,19.1,19.8,36.9,38.8,39.6,48.5,59.3,59.6,64.7,65.0,73.9,74.2,74.4],[33.4,38.8,39.4,68.1,74.7,77.8,80.9,82.0,85.5,87.4,89.0,90.1,90.4,90.6],
  [19.5,23.8,24.5,50.0,60.8,65.4,76.6,78.2,80.9,84.7,85.5,85.9,86.2,86.4],[9.0,13.0,13.7,39.6,51.7,55.0,77.4,84.7,85.9,92.8,96.7,97.5,97.8,98.0],
  [8.7,13.3,14.1,45.0,57.3,59.3,78.2,84.7,86.3,92.8,95.1,97.1,97.4,97.6],[17.6,24.2,24.9,52.7,67.0,71.6,82.8,84.7,86.7,90.9,92.6,94.8,95.1,95.3],
  [18.8,23.4,24.5,52.7,67.0,71.2,82.8,84.7,87.4,90.5,92.4,94.8,95.1,95.3],[15.7,21.1,22.2,53.1,66.2,70.4,82.0,83.9,85.9,89.4,91.8,94.0,94.3,94.5],
  [8.7,16.8,18.0,40.4,53.1,58.3,70.4,73.9,81.2,81.6,84.7,94.4,94.7,94.9],[10.0,16.8,17.7,41.1,55.8,62.3,75.8,80.9,85.9,90.1,93.6,95.1,95.4,95.6]
];

// panel f: top edge (%) of aliphatic, 1-ring, 2-ring, 3-ring; >=4-ring runs to 100
const ringTopsSuburban = [
  [96.3,97.6,98.4,99.0],[94.4,98.7,99.3,99.7],[97.1,99.2,99.6,99.8],[87.9,97.9,99.0,99.5],[93.4,98.7,99.3,99.7],[93.9,97.3,98.7,99.3],
  [98.6,99.2,99.6,99.8],[95.2,98.3,98.8,99.4],[98.1,99.2,99.6,99.8],[95.9,98.7,99.3,99.7],[98.5,99.2,99.6,99.8],[96.9,98.5,99.2,99.6],
  [98.6,99.2,99.6,99.8],[97.4,99.0,99.5,99.8],[93.1,96.6,97.9,99.0],[85.8,97.9,98.6,99.2],[91.7,97.9,98.6,99.0],[76.1,96.3,98.3,99.0],
  [96.3,98.6,99.2,99.6],[96.5,98.7,99.3,99.7],[87.0,98.8,99.3,99.7],[85.9,98.5,99.1,99.6],[97.9,99.5,99.7,99.9],[93.1,99.0,99.5,99.8],
  [93.1,98.8,99.4,99.7],[91.8,98.6,99.2,99.6],[85.7,93.1,98.6,99.0],[95.5,98.8,99.4,99.7],[96.9,99.2,99.6,99.8],[95.2,98.8,99.4,99.7],
  [91.3,97.1,98.6,99.5],[95.9,98.6,99.2,99.6]
];
const ringTopsUrbanSummer = [
  [97.3,99.0,99.4,99.7],[95.0,98.6,99.0,99.5],[87.7,93.4,96.9,99.0],[97.3,98.6,99.2,99.6],[97.5,98.6,99.0,99.5],[92.3,98.6,99.0,99.5],
  [90.6,97.6,98.6,99.3],[87.9,98.3,98.8,99.4],[88.6,96.9,98.3,99.3],[85.5,97.9,98.8,99.4],[90.8,98.3,98.8,99.4],[81.2,96.1,98.3,99.3],
  [85.5,97.6,98.8,99.4],[85.8,97.9,98.8,99.4],[88.2,94.2,97.1,99.0],[93.0,96.9,98.3,99.3],[77.5,96.6,98.6,99.3],[90.8,98.6,99.2,99.6],
  [94.6,98.6,99.2,99.6],[87.9,94.0,97.6,99.0],[92.6,95.9,98.3,99.3],[90.6,96.6,98.3,99.3],[95.7,97.3,98.6,99.3],[83.4,92.7,96.9,98.7]
];
const ringTopsUrbanWinter = [
  [88.8,96.6,98.1,99.0],[86.7,95.2,98.1,99.0],[87.7,96.6,98.1,99.0],[82.4,92.5,96.6,98.3],[89.0,97.3,98.3,99.0],[88.8,96.6,98.1,99.0],
  [86.7,96.3,98.1,99.0],[87.1,96.1,97.9,99.0],[89.2,97.9,98.6,99.0],[87.7,96.6,98.1,99.0],[89.3,97.9,98.6,99.0],[82.8,94.4,96.6,98.3],
  [60.5,96.3,98.1,98.8],[86.2,98.6,99.2,99.6],[65.8,97.3,98.7,99.4],[77.3,92.5,96.1,98.3],[72.3,92.3,96.1,98.3],[86.2,95.0,96.6,98.1],
  [86.2,96.3,97.9,99.0],[81.0,94.0,96.3,98.1],[82.4,94.0,96.3,98.1],[75.4,91.1,95.2,97.9],[81.7,94.0,96.6,98.3],[82.8,94.0,96.6,98.6]
];

// ---------- drawing ----------
const W = 3279, H = 4225;
const FONT = '"Liberation Serif", "Times New Roman", serif';
// the drawing uses a fixed 3279x4225 coordinate system and is fitted to the window
const svg = d3.select('#chart').append('svg')
  .attr('viewBox', `0 0 ${W} ${H}`)
  .attr('preserveAspectRatio', 'none');
svg.append('rect').attr('width', W).attr('height', H).attr('fill', '#fff');
const defs = svg.append('defs');

const ratioColor = d3.scaleThreshold().domain(ratioTicks.slice(1, -1)).range(ratioColors);
const rScale = d3.scaleSqrt().domain([0, 100]).range([0, 44]);

function styleAxis(g, size, width) {
  g.attr('font-family', FONT).attr('font-size', size).attr('font-weight', 'bold');
  g.selectAll('.tick line').attr('stroke', '#000').attr('stroke-width', width);
  g.selectAll('.tick text').attr('fill', '#000');
  g.select('.domain').attr('stroke', '#000').attr('stroke-width', width);
}

function rotatedLabel(text, cx, cy, size) {
  svg.append('text')
    .attr('transform', `translate(${cx},${cy}) rotate(-90)`)
    .attr('text-anchor', 'middle').attr('dominant-baseline', 'central')
    .attr('font-size', size).text(text);
}

function drawBubblePanel(cfg) {
  const x = d3.scaleLinear().domain([0, 50]).range([cfg.left, cfg.right]);
  const y = d3.scaleLinear().domain([-0.5, 20]).range([cfg.bottom, cfg.top]);
  const g = svg.append('g');

  defs.append('clipPath').attr('id', 'clip-' + cfg.id).append('rect')
    .attr('x', cfg.left).attr('y', cfg.top)
    .attr('width', cfg.right - cfg.left).attr('height', cfg.bottom - cfg.top);

  const pts = cfg.points.map(p => ({ c: p[0], dbe: p[1], v: p[2], ratio: p[3] }))
    .sort((a, b) => b.v - a.v);

  g.append('g').attr('clip-path', `url(#clip-${cfg.id})`)
    .selectAll('circle').data(pts).join('circle')
    .attr('cx', d => x(d.c))
    .attr('cy', d => y(d.dbe))
    .attr('r', d => rScale(d.v))
    .attr('fill', 'none')
    .attr('stroke', d => ratioColor(d.ratio))
    .attr('stroke-width', d => 2 + rScale(d.v) * 0.11);

  // donut of ring classes: 1-ring, 2-ring, 3-ring, >=4-ring, then aliphatic
  const order = [1, 2, 3, 4, 0];
  const pie = d3.pie().sort(null).value(i => cfg.pie[i]);
  const arc = d3.arc().innerRadius(59).outerRadius(111);
  g.append('g').attr('transform', `translate(${cfg.pieX},${cfg.pieY})`)
    .selectAll('path').data(pie(order)).join('path')
    .attr('d', arc).attr('fill', d => ringColors[d.data]);
  g.append('text').attr('x', cfg.ringLabel[0]).attr('y', cfg.ringLabel[1])
    .attr('text-anchor', 'middle').attr('font-size', 50).text(cfg.pie[1] + '%');
  g.append('text').attr('x', cfg.aliLabel[0]).attr('y', cfg.aliLabel[1])
    .attr('text-anchor', 'middle').attr('font-size', 50).text(cfg.pie[0] + '%');

  // axes
  const xa = g.append('g').attr('transform', `translate(0,${cfg.bottom})`)
    .call(d3.axisBottom(x).tickValues(cTicks).tickSize(14).tickPadding(13).tickSizeOuter(0));
  styleAxis(xa, 64, 4);
  const xm = g.append('g').attr('transform', `translate(0,${cfg.bottom})`)
    .call(d3.axisBottom(x).tickValues(d3.range(2, 50, 2).filter(v => v % 10)).tickSize(8).tickFormat(''));
  styleAxis(xm, 10, 3);
  const ya = g.append('g').attr('transform', `translate(${cfg.left},0)`)
    .call(d3.axisLeft(y).tickValues(dbeTicks).tickSize(12).tickPadding(9).tickSizeOuter(0));
  styleAxis(ya, 64, 4);
  const ym = g.append('g').attr('transform', `translate(${cfg.left},0)`)
    .call(d3.axisLeft(y).tickValues(d3.range(1, 20).filter(v => v % 5)).tickSize(6).tickFormat(''));
  styleAxis(ym, 10, 3);
  [xa, xm, ya, ym].forEach(a => a.select('.domain').remove());

  g.append('rect').attr('x', cfg.left).attr('y', cfg.top)
    .attr('width', cfg.right - cfg.left).attr('height', cfg.bottom - cfg.top)
    .attr('fill', 'none').attr('stroke', '#000').attr('stroke-width', 4);

  g.append('text').attr('x', cfg.titleX).attr('y', cfg.titleY).attr('font-size', 78).text(cfg.title);
  g.append('text').attr('x', (cfg.left + cfg.right) / 2).attr('y', cfg.cLabelY)
    .attr('text-anchor', 'middle').attr('font-size', 64).text('C number');
  rotatedLabel('DBE', cfg.dbeX, (cfg.top + cfg.bottom) / 2, 64);
}

drawBubblePanel({ id: 'a', points: bubblesSuburbanSummer, left: 297, right: 1496, top: 52.6, bottom: 948,
  title: '(a) Suburban (summer)', titleX: 306, titleY: 137, dbeX: 168, cLabelY: 1090,
  pie: pieSuburbanSummer, pieX: 1337, pieY: 779, ringLabel: [1347, 655], aliLabel: [1321, 932] });
drawBubblePanel({ id: 'b', points: bubblesUrbanSummer, left: 1704, right: 2902, top: 51, bottom: 947,
  title: '(b) Urban (summer)', titleX: 1725, titleY: 133, dbeX: 1571, cLabelY: 1090,
  pie: pieUrbanSummer, pieX: 2740, pieY: 779, ringLabel: [2772, 661], aliLabel: [2694, 929] });
drawBubblePanel({ id: 'c', points: bubblesUrbanWinter, left: 305, right: 1503, top: 1140, bottom: 2037,
  title: '(c) Urban (winter)', titleX: 316, titleY: 1225, dbeX: 168, cLabelY: 2213,
  pie: pieUrbanWinter, pieX: 1337, pieY: 1866, ringLabel: [1449, 1755], aliLabel: [1209, 2004] });

// colour bar
(function drawColorbar() {
  const cy = d3.scaleLinear().domain([0, 2]).range([704, 197]);
  const g = svg.append('g');
  g.selectAll('rect.bin').data(ratioColors).join('rect')
    .attr('x', 3011).attr('width', 34)
    .attr('y', (d, i) => cy(ratioTicks[i + 1]))
    .attr('height', (d, i) => cy(ratioTicks[i]) - cy(ratioTicks[i + 1]))
    .attr('fill', d => d);
  g.append('rect').attr('x', 3011).attr('y', cy(2)).attr('width', 34).attr('height', cy(0) - cy(2))
    .attr('fill', 'none').attr('stroke', '#000').attr('stroke-width', 4);
  const a = g.append('g').attr('transform', 'translate(3045,0)')
    .call(d3.axisRight(cy).tickValues(ratioTicks).tickFormat(d3.format('.1f')).tickSize(12).tickPadding(4).tickSizeOuter(0));
  styleAxis(a, 56, 3);
  a.select('.domain').remove();
  rotatedLabel('(0-3*s)/c', 2974, 448, 64);
})();

// panel d: grouped bars
(function drawSubgroups() {
  const left = 1716, right = 2916, top = 1137, bottom = 2035;
  const x0 = d3.scaleBand().domain(subgroups).range([left, right]).paddingInner(0.24).paddingOuter(0.12);
  const x1 = d3.scaleBand().domain(sites).range([0, x0.bandwidth()]);
  const y = d3.scaleLinear().domain([0, 55]).range([bottom, top]);
  const fracs = [fracSuburbanSummer, fracUrbanSummer, fracUrbanWinter];
  const errs = [errSuburbanSummer, errUrbanSummer, errUrbanWinter];
  const rows = [];
  subgroups.forEach((s, i) => sites.forEach((site, j) => rows.push({ s, site, j, v: fracs[j][i], e: errs[j][i] })));
  const g = svg.append('g');

  g.selectAll('line.err').data(rows).join('line')
    .attr('x1', d => x0(d.s) + x1(d.site) + x1.bandwidth() / 2)
    .attr('x2', d => x0(d.s) + x1(d.site) + x1.bandwidth() / 2)
    .attr('y1', d => y(d.v)).attr('y2', d => y(d.v + d.e))
    .attr('stroke', '#333').attr('stroke-width', 2.5);
  g.selectAll('line.cap').data(rows).join('line')
    .attr('x1', d => x0(d.s) + x1(d.site) + x1.bandwidth() / 2 - 6)
    .attr('x2', d => x0(d.s) + x1(d.site) + x1.bandwidth() / 2 + 6)
    .attr('y1', d => y(d.v + d.e)).attr('y2', d => y(d.v + d.e))
    .attr('stroke', '#333').attr('stroke-width', 2.5);
  g.selectAll('rect.bar').data(rows).join('rect')
    .attr('x', d => x0(d.s) + x1(d.site))
    .attr('width', x1.bandwidth())
    .attr('y', d => y(d.v))
    .attr('height', d => y(0) - y(d.v))
    .attr('fill', d => siteColors[d.j])
    .attr('stroke', '#333').attr('stroke-width', 2.5);

  const ya = g.append('g').attr('transform', `translate(${left},0)`)
    .call(d3.axisLeft(y).tickValues([0, 10, 20, 30, 40, 50]).tickSize(16).tickPadding(3).tickSizeOuter(0));
  styleAxis(ya, 64, 4);
  const ym = g.append('g').attr('transform', `translate(${left},0)`)
    .call(d3.axisLeft(y).tickValues([5, 15, 25, 35, 45]).tickSize(9).tickFormat(''));
  styleAxis(ym, 10, 3);
  const xa = g.append('g').attr('transform', `translate(0,${bottom})`)
    .call(d3.axisBottom(x0).tickSize(10).tickSizeOuter(0));
  styleAxis(xa, 50, 3);
  xa.selectAll('.tick text')
    .attr('transform', 'rotate(-90)').attr('text-anchor', 'end')
    .attr('x', -22).attr('y', 0).attr('dy', '0.35em');
  [ya, ym, xa].forEach(a => a.select('.domain').remove());

  g.append('rect').attr('x', left).attr('y', top).attr('width', right - left).attr('height', bottom - top)
    .attr('fill', 'none').attr('stroke', '#000').attr('stroke-width', 4);

  const lg = g.append('g');
  sites.forEach((site, j) => {
    lg.append('rect').attr('x', 2390).attr('y', 1170 + j * 50).attr('width', 63).attr('height', 31)
      .attr('fill', siteColors[j]).attr('stroke', '#333').attr('stroke-width', 2.5);
    lg.append('text').attr('x', 2487).attr('y', 1202 + j * 50).attr('font-size', 47).text(site);
  });
  g.append('text').attr('x', 1735).attr('y', 1226).attr('font-size', 72).text('(d)');
  g.append('text').attr('x', 2300).attr('y', 2243).attr('text-anchor', 'middle').attr('font-size', 64).text('CHOS subgroup');
  rotatedLabel('Fraction (%)', 1592, 1586, 64);
})();

// panels e and f
(function drawSamples() {
  const blocks = [
    { key: 'S', labels: suburbanSamples, dbe: dbeTopsSuburban, ring: ringTopsSuburban },
    { key: 'U', labels: urbanSummerSamples, dbe: dbeTopsUrbanSummer, ring: ringTopsUrbanSummer },
    { key: 'W', labels: urbanWinterSamples, dbe: dbeTopsUrbanWinter, ring: ringTopsUrbanWinter }
  ];
  const slots = ['g0'];
  const samples = [];
  blocks.forEach((b, bi) => {
    b.labels.forEach((lab, i) => {
      const k = b.key + i;
      slots.push(k);
      samples.push({ k, lab, dbe: b.dbe[i], ring: b.ring[i] });
    });
    slots.push('g' + (bi + 1));
  });
  const labelOf = new Map(samples.map(s => [s.k, s.lab]));
  const x = d3.scaleBand().domain(slots).range([268, 2959]).paddingInner(0.18).paddingOuter(0.09);
  const xc = k => x(k) + x.bandwidth() / 2;
  const yE = d3.scaleLinear().domain([0, 100]).range([3073, 2329]);
  const yF = d3.scaleLinear().domain([0, 100]).range([3987, 3243.5]);

  // fills: solid / hatched / dotted per carbon group
  carbonColors.forEach((col, gi) => {
    const h = defs.append('pattern').attr('id', `hatch-${gi}`).attr('patternUnits', 'userSpaceOnUse')
      .attr('width', 16).attr('height', 16);
    h.append('rect').attr('width', 16).attr('height', 16).attr('fill', col);
    h.append('path').attr('d', 'M-4,4 L4,-4 M0,16 L16,0 M12,20 L20,12')
      .attr('stroke', '#000').attr('stroke-width', 2.4);
    const p = defs.append('pattern').attr('id', `dots-${gi}`).attr('patternUnits', 'userSpaceOnUse')
      .attr('width', 4.5).attr('height', 4.5);
    p.append('rect').attr('width', 4.5).attr('height', 4.5).attr('fill', col);
    p.append('circle').attr('cx', 2.25).attr('cy', 2.25).attr('r', 1.3).attr('fill', '#000').attr('fill-opacity', 0.6);
  });
  const bandFill = k => {
    const gi = Math.floor(k / 3), c = k % 3;
    return c === 0 ? carbonColors[gi] : c === 1 ? `url(#hatch-${gi})` : `url(#dots-${gi})`;
  };

  const g = svg.append('g');
  const eSegs = [], fSegs = [];
  samples.forEach(s => {
    const tops = s.dbe.concat([100]);
    tops.forEach((t, k) => eSegs.push({ k: s.k, band: k, y0: k ? tops[k - 1] : 0, y1: t }));
    const rt = s.ring.concat([100]);
    rt.forEach((t, k) => fSegs.push({ k: s.k, band: k, y0: k ? rt[k - 1] : 0, y1: t }));
  });
  g.selectAll('rect.e').data(eSegs).join('rect')
    .attr('x', d => x(d.k)).attr('width', x.bandwidth())
    .attr('y', d => yE(d.y1)).attr('height', d => yE(d.y0) - yE(d.y1))
    .attr('fill', d => bandFill(d.band)).attr('stroke', '#000').attr('stroke-width', 2.5);
  g.selectAll('rect.f').data(fSegs).join('rect')
    .attr('x', d => x(d.k)).attr('width', x.bandwidth())
    .attr('y', d => yF(d.y1)).attr('height', d => yF(d.y0) - yF(d.y1))
    .attr('fill', d => ringColors[d.band]).attr('stroke', '#000').attr('stroke-width', 2.5);

  const keys = samples.map(s => s.k);
  [[yE, 3073], [yF, 3987]].forEach(([yy, base], idx) => {
    const ya = g.append('g').attr('transform', 'translate(268,0)')
      .call(d3.axisLeft(yy).tickValues([0, 20, 40, 60, 80, 100]).tickSize(27).tickPadding(27).tickSizeOuter(0));
    styleAxis(ya, 64, 6);
    const ym = g.append('g').attr('transform', 'translate(268,0)')
      .call(d3.axisLeft(yy).tickValues([10, 30, 50, 70, 90]).tickSize(15).tickFormat(''));
    styleAxis(ym, 10, 5);
    ym.select('.domain').remove();
    const xa = g.append('g').attr('transform', `translate(0,${base})`)
      .call(d3.axisBottom(x).tickValues(keys).tickSize(20).tickSizeOuter(0)
        .tickFormat(idx ? k => labelOf.get(k) : ''));
    styleAxis(xa, 38, 5);
    if (idx) {
      xa.selectAll('.tick text')
        .attr('transform', 'rotate(-90)').attr('text-anchor', 'end')
        .attr('x', -42).attr('y', 0).attr('dy', '0.35em');
    }
    rotatedLabel('Intensity fraction (%)', 54, (yy(0) + yy(100)) / 2, 62);
  });

  // separators, arrows and site labels
  const gaps = ['g0', 'g1', 'g2', 'g3'].map(xc);
  g.selectAll('line.sep').data(gaps).join('line')
    .attr('x1', d => d).attr('x2', d => d).attr('y1', 2325).attr('y2', 3987)
    .attr('stroke', '#000').attr('stroke-width', 5).attr('stroke-dasharray', '16 9');
  const ay = 3174;
  siteLabels.forEach((lab, i) => {
    const a = gaps[i], b = gaps[i + 1];
    g.append('line').attr('x1', a + 20).attr('x2', b - 20).attr('y1', ay).attr('y2', ay)
      .attr('stroke', '#000').attr('stroke-width', 6);
    g.append('path').attr('d', `M${a},${ay} L${a + 50},${ay - 14} L${a + 50},${ay + 14} Z`).attr('fill', '#000');
    g.append('path').attr('d', `M${b},${ay} L${b - 50},${ay - 14} L${b - 50},${ay + 14} Z`).attr('fill', '#000');
    g.append('text').attr('x', (a + b) / 2 - 12).attr('y', 3155).attr('text-anchor', 'middle')
      .attr('font-size', 72).text(lab);
  });

  g.append('text').attr('x', 205).attr('y', 2290).attr('font-size', 72).text('(e)');
  g.append('text').attr('x', 196).attr('y', 3204).attr('font-size', 72).text('(f)');

  // legend e
  carbonGroups.forEach((cg, gi) => {
    const hy = 2353 + gi * 193.6;
    g.append('text').attr('x', 2967).attr('y', hy + 14).attr('font-size', 40).text(cg);
    dbeClasses.forEach((dc, c) => {
      const cy = hy + 46 + c * 48.4;
      g.append('rect').attr('x', 2987).attr('y', cy - 14).attr('width', 55).attr('height', 28)
        .attr('fill', bandFill(gi * 3 + c)).attr('stroke', '#000').attr('stroke-width', 3);
      g.append('text').attr('x', 3074).attr('y', cy + 14).attr('font-size', 40).text(dc);
    });
  });
  // legend f
  ringClasses.forEach((rc, i) => {
    const cy = 3431 + i * 58;
    g.append('rect').attr('x', 2989).attr('y', cy - 16).attr('width', 60).attr('height', 32)
      .attr('fill', ringColors[i]).attr('stroke', '#000').attr('stroke-width', 3);
    g.append('text').attr('x', 3080).attr('y', cy + 14).attr('font-size', 42).text(rc);
  });
})();
</script>
</body>
</html>
